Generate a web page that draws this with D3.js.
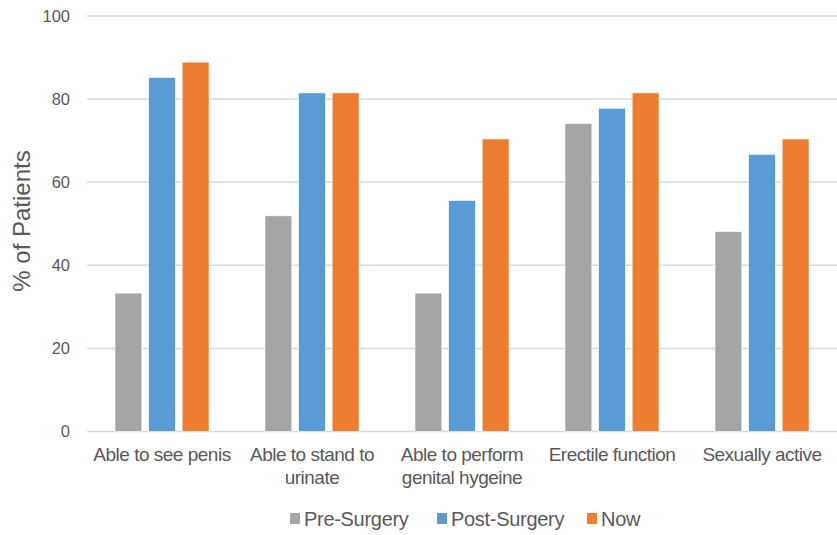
<!DOCTYPE html>
<html>
<head>
<meta charset="utf-8">
<script src="https://cdn.jsdelivr.net/npm/d3@7"></script>
<style>
  body { margin: 0; background: #fff; }
  text { font-family: "Liberation Sans", Arial, sans-serif; fill: #595959; }
</style>
</head>
<body>
<div class="container"></div>
<script>
  var width = 837,
    height = 535;

  var categories = [
    ["Able to see penis"],
    ["Able to stand to", "urinate"],
    ["Able to perform", "genital hygeine"],
    ["Erectile function"],
    ["Sexually active"]
  ];
  var seriesNames = ["Pre-Surgery", "Post-Surgery", "Now"];
  var colors = ["#A5A5A5", "#5B9BD5", "#ED7D31"];

  var preSurgery = [33.3, 51.9, 33.3, 74.1, 48.1];
  var postSurgery = [85.2, 81.5, 55.6, 77.8, 66.7];
  var now = [88.9, 81.5, 70.4, 81.5, 70.4];
  var yTicks = [0, 20, 40, 60, 80, 100];

  var series = [preSurgery, postSurgery, now];

  var margin = { left: 87, right: 0, top: 16, bottom: 103 };

  var svg = d3.select(".container").append("svg")
    .attr("width", width)
    .attr("height", height);

  var x0 = d3.scaleBand()
    .domain(d3.range(categories.length))
    .range([margin.left, width - margin.right])
    .paddingInner(0.373)
    .paddingOuter(0.1865);

  var x1 = d3.scaleBand()
    .domain(d3.range(series.length))
    .range([0, x0.bandwidth()])
    .paddingInner(0.2);

  var y = d3.scaleLinear()
    .domain([0, 100])
    .range([height - margin.bottom - 0.5, margin.top]);

  // grid lines
  svg.append("g")
    .selectAll("line")
    .data(yTicks)
    .enter().append("line")
    .attr("x1", margin.left)
    .attr("x2", width)
    .attr("y1", function(d) { return y(d); })
    .attr("y2", function(d) { return y(d); })
    .attr("stroke", "#D9D9D9")
    .attr("stroke-width", 1.5);

  // y tick labels
  svg.append("g")
    .selectAll("text")
    .data(yTicks)
    .enter().append("text")
    .attr("x", 70)
    .attr("y", function(d) { return y(d); })
    .attr("dy", "0.36em")
    .attr("text-anchor", "end")
    .style("font-size", "16.5px")
    .text(function(d) { return d; });

  // bars
  var group = svg.append("g")
    .selectAll("g")
    .data(series)
    .enter().append("g")
    .attr("fill", function(d, i) { return colors[i]; });

  group.each(function(vals, si) {
    d3.select(this).selectAll("rect")
      .data(vals)
      .enter().append("rect")
      .attr("x", function(d, ci) { return x0(ci) + x1(si); })
      .attr("width", x1.bandwidth())
      .attr("y", function(d) { return y(d); })
      .attr("height", function(d) { return y(0) - y(d); })
      .attr("stroke", "#fff")
      .attr("stroke-width", 0.6);
  });

  // category labels
  var catLabel = svg.append("g")
    .selectAll("text")
    .data(categories)
    .enter().append("text")
    .attr("x", function(d, i) { return x0(i) + x0.bandwidth() / 2; })
    .attr("y", 461)
    .attr("text-anchor", "middle")
    .style("font-size", "19px")
    .style("letter-spacing", "-0.5px");

  catLabel.selectAll("tspan")
    .data(function(d) { return d; })
    .enter().append("tspan")
    .attr("x", function() { return d3.select(this.parentNode).attr("x"); })
    .attr("dy", function(d, i) { return i === 0 ? 0 : 23; })
    .text(function(d) { return d; });

  // y axis title
  svg.append("text")
    .attr("transform", "translate(30," + 221 + ") rotate(-90)")
    .attr("text-anchor", "middle")
    .style("font-size", "24px")
    .text("% of Patients");

  // legend
  var legendX = [290, 437, 587];
  var legend = svg.append("g")
    .selectAll("g")
    .data(seriesNames)
    .enter().append("g")
    .attr("transform", function(d, i) { return "translate(" + legendX[i] + ",519)"; });

  legend.append("rect")
    .attr("x", 0)
    .attr("y", -6)
    .attr("width", 10)
    .attr("height", 11)
    .attr("fill", function(d, i) { return colors[i]; });

  legend.append("text")
    .attr("x", 14)
    .attr("dy", "0.36em")
    .style("font-size", "20px")
    .style("letter-spacing", "-0.3px")
    .text(function(d) { return d; });
</script>
</body>
</html>
